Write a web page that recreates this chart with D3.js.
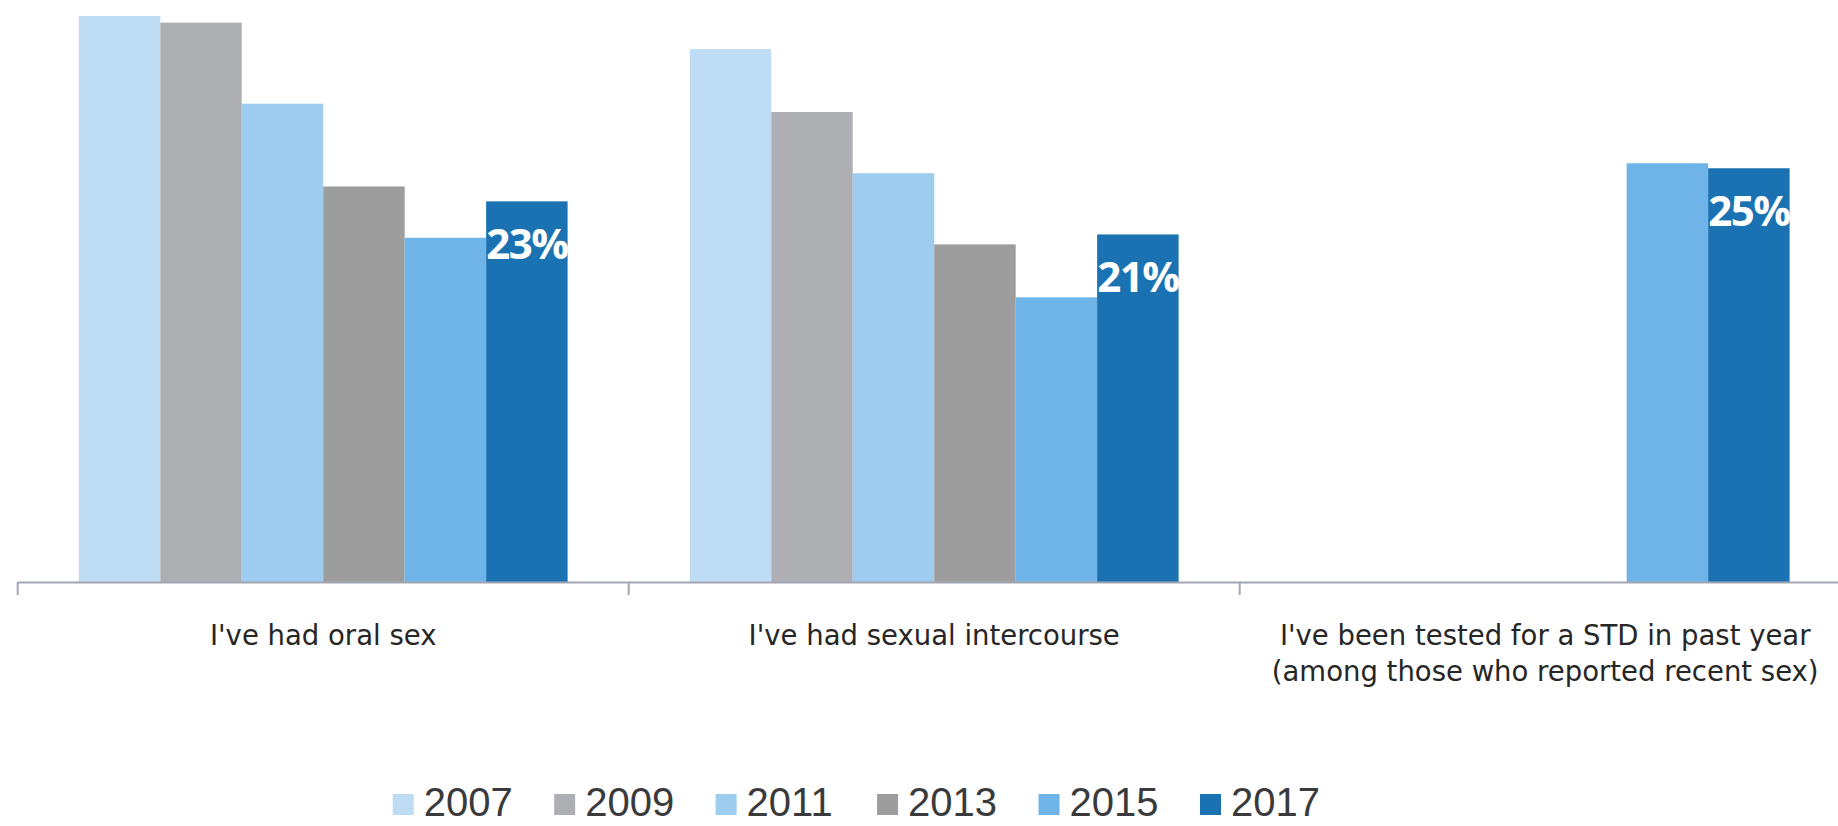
<!DOCTYPE html>
<html>
<head>
<meta charset="utf-8">
<script src="https://cdn.jsdelivr.net/npm/d3@7"></script>
<style>
  html, body { margin: 0; padding: 0; background: #ffffff; }
  svg { display: block; }
</style>
</head>
<body>
<svg id="chart" width="1838" height="826"></svg>
<script>
// Survey items (each category label may span several lines)
const categories = ["oral", "intercourse", "tested"];
const categoryLines = [
  ["I've had oral sex"],
  ["I've had sexual intercourse"],
  ["I've been tested for a STD in past year", "(among those who reported recent sex)"]
];

// Survey years (series)
const years = ["2007", "2009", "2011", "2013", "2015", "2017"];

// Percent of respondents, one array per survey year (null = not asked)
const v2007 = [34.2, 32.2, null];
const v2009 = [33.8, 28.4, null];
const v2011 = [28.9, 24.7, null];
const v2013 = [23.9, 20.4, null];
const v2015 = [20.8, 17.2, 25.3];
const v2017 = [23, 21, 25];
const seriesValues = [v2007, v2009, v2011, v2013, v2015, v2017];

// Only the latest year carries value labels
const labelledYear = "2017";

const colors = ["#BEDDF4", "#AEAFB3", "#9DCCEF", "#9D9D9D", "#6FB4E8", "#1B72B2"];

const svg = d3.select("#chart");

const baseY = 582;
const x = d3.scaleBand()
  .domain(categories)
  .range([17.7, 1850.7])
  .paddingInner(0.2)
  .paddingOuter(0.1);

const xInner = d3.scaleBand()
  .domain(years)
  .range([0, x.bandwidth()])
  .padding(0);

const y = d3.scaleLinear()
  .domain([0, 35])
  .range([baseY, 2.75]);

const color = d3.scaleOrdinal().domain(years).range(colors);

// Flatten into bar records
const bars = [];
years.forEach((yr, si) => {
  categories.forEach((c, ci) => {
    const v = seriesValues[si][ci];
    if (v != null) bars.push({ year: yr, cat: c, value: v });
  });
});

const barG = svg.append("g");
barG.selectAll("rect")
  .data(bars)
  .join("rect")
  .attr("x", d => x(d.cat) + xInner(d.year))
  .attr("y", d => y(d.value))
  .attr("width", xInner.bandwidth())
  .attr("height", d => y(0) - y(d.value))
  .attr("fill", d => color(d.year));

// Value labels inside the top of the latest-year bars
barG.selectAll("text.value")
  .data(bars.filter(d => d.year === labelledYear))
  .join("text")
  .attr("class", "value")
  .attr("x", d => x(d.cat) + xInner(d.year) + xInner.bandwidth() / 2)
  .attr("y", d => y(d.value) + 58)
  .attr("text-anchor", "middle")
  .attr("fill", "#ffffff")
  .attr("font-family", "'Open Sans', 'Noto Sans', sans-serif")
  .attr("font-weight", "bold")
  .attr("font-size", 42)
  .attr("letter-spacing", -1.6)
  .text(d => d3.format(".0f")(d.value) + "%");

// Category axis: baseline plus ticks between categories
const axisColor = "#A2A6B2";
const axisG = svg.append("g").attr("transform", `translate(0,${baseY})`);
const axis = d3.axisBottom(x).tickSize(0).tickSizeOuter(0).tickFormat("");
axisG.call(axis);
axisG.select(".domain").attr("stroke", axisColor).attr("stroke-width", 2);
axisG.selectAll(".tick").remove();

const half = (x.step() - x.bandwidth()) / 2;
const boundaries = categories.map(c => x(c) - half).concat([x(categories[categories.length - 1]) + x.bandwidth() + half]);
axisG.selectAll("line.sep")
  .data(boundaries)
  .join("line")
  .attr("class", "sep")
  .attr("x1", d => d).attr("x2", d => d)
  .attr("y1", 0).attr("y2", 13)
  .attr("stroke", axisColor)
  .attr("stroke-width", 2);

// Category labels
const labelG = svg.append("g");
categories.forEach((c, i) => {
  const t = labelG.append("text")
    .attr("x", x(c) + x.bandwidth() / 2)
    .attr("y", 645)
    .attr("text-anchor", "middle")
    .attr("fill", "#262626")
    .attr("font-family", "'DejaVu Sans', sans-serif")
    .attr("font-size", 27.5);
  categoryLines[i].forEach((line, li) => {
    t.append("tspan")
      .attr("x", x(c) + x.bandwidth() / 2)
      .attr("dy", li === 0 ? 0 : 36)
      .text(line);
  });
});

// Legend
const legendX = d3.scalePoint().domain(years).range([392.7, 1200]);
const legend = svg.append("g");
const items = legend.selectAll("g")
  .data(years)
  .join("g")
  .attr("transform", d => `translate(${legendX(d)},0)`);
items.append("rect")
  .attr("x", 0).attr("y", 794)
  .attr("width", 21).attr("height", 21)
  .attr("fill", d => color(d));
items.append("text")
  .attr("x", 31).attr("y", 816)
  .attr("fill", "#3A3A3C")
  .attr("font-family", "'Liberation Sans', Arial, sans-serif")
  .attr("font-size", 40)
  .text(d => d);
</script>
</body>
</html>
